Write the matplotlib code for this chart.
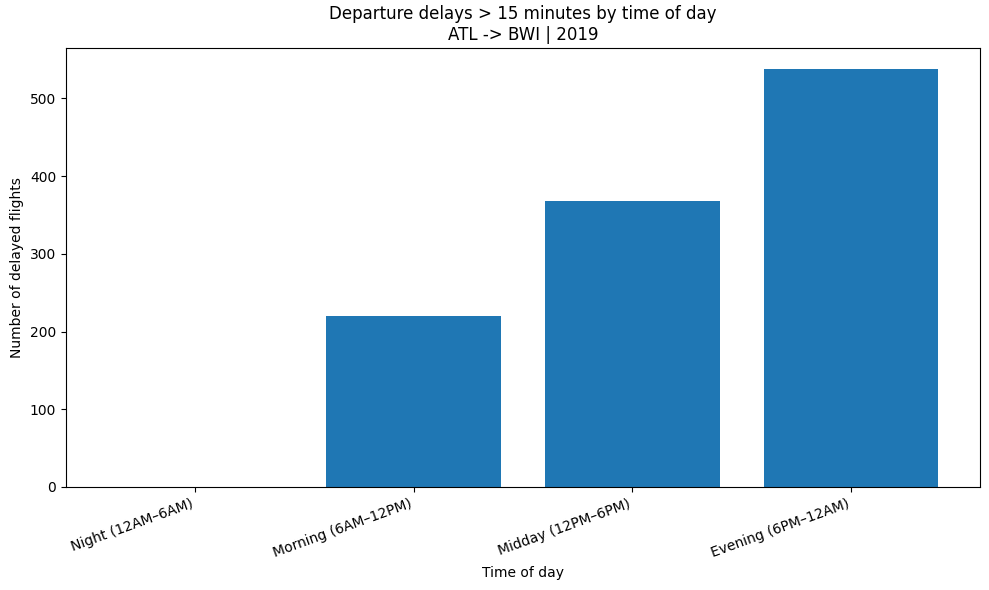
import matplotlib
matplotlib.use("Agg")
import matplotlib.pyplot as plt

# Delayed departures by time-of-day bucket
periods = ["Night (12AM–6AM)", "Morning (6AM–12PM)", "Midday (12PM–6PM)", "Evening (6PM–12AM)"]
delayed = [0, 220, 368, 538]

fig, ax = plt.subplots(figsize=(9.89, 5.9), dpi=100)
ax.bar(periods, delayed, color="#1f77b4")

ax.set_title("Departure delays > 15 minutes by time of day\nATL -> BWI | 2019")
ax.set_xlabel("Time of day")
ax.set_ylabel("Number of delayed flights")
plt.setp(ax.get_xticklabels(), rotation=20, ha="right")

# match the reference layout
fig.subplots_adjust(left=0.0667, right=0.9909, top=0.9186, bottom=0.1746)
plt.savefig("out.png")
